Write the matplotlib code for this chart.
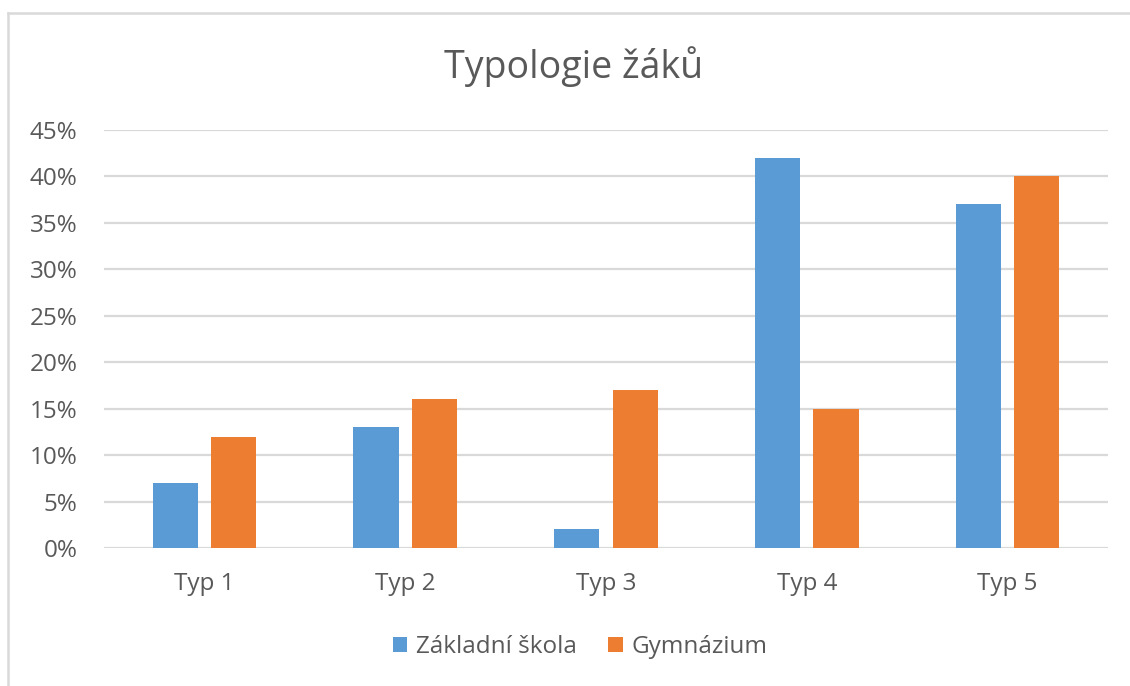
import matplotlib
matplotlib.use("Agg")
import matplotlib.pyplot as plt
from matplotlib.lines import Line2D
from matplotlib.patches import Patch
import numpy as np

categories = ["Typ 1", "Typ 2", "Typ 3", "Typ 4", "Typ 5"]
zakladni = [0.07, 0.13, 0.02, 0.42, 0.37]
gymnazium = [0.12, 0.16, 0.17, 0.15, 0.40]
series_names = ["Základní škola", "Gymnázium"]
yticks = [0, 0.05, 0.10, 0.15, 0.20, 0.25, 0.30, 0.35, 0.40, 0.45]

blue = "#5B9BD5"
orange = "#ED7D31"
txt = "#595959"
grid = "#D9D9D9"

plt.rcParams['font.family'] = ['Open Sans', 'DejaVu Sans']

W, H = 1130, 686
fig = plt.figure(figsize=(W / 100, H / 100), dpi=100)
ax = fig.add_axes([104 / W, 1 - 548 / H, (1108 - 104) / W, (548 - 130) / H])

x = np.arange(len(categories))
bw = 0.225
off = 0.145
ax.bar(x - off, zakladni, bw, color=blue, zorder=3)
ax.bar(x + off, gymnazium, bw, color=orange, zorder=3)

ax.set_xlim(-0.5, len(categories) - 0.5)
ax.set_ylim(0, 0.45)
ax.set_yticks(yticks)
ax.set_yticklabels([f"{int(round(v * 100))}%" for v in yticks])
ax.set_xticks(x)
ax.set_xticklabels(categories)
ax.tick_params(axis='both', length=0, colors=txt, labelsize=17.5)
ax.tick_params(axis='y', pad=19)
ax.tick_params(axis='x', pad=17)
for s in ax.spines.values():
    s.set_visible(False)
ax.yaxis.grid(True, color=grid, linewidth=1.6, zorder=0)
ax.set_axisbelow(True)

fig.text(574 / W, 1 - 67 / H, "Typologie žáků", ha='center', va='center',
         fontsize=27, color=txt)

handles = [Patch(facecolor=blue, label=series_names[0]),
           Patch(facecolor=orange, label=series_names[1])]
fig.legend(handles=handles, loc='center', bbox_to_anchor=(580 / W, 1 - 647 / H),
           ncol=2, frameon=False, fontsize=17.5, labelcolor=txt,
           handlelength=0.6, handleheight=0.6, handletextpad=0.35,
           columnspacing=1.3)

# chart border (left and top visible)
fig.add_artist(Line2D([8 / W, 8 / W], [0, 1 - 13 / H], color="#D9D9D9",
                      linewidth=1.8, transform=fig.transFigure))
fig.add_artist(Line2D([8 / W, 1], [1 - 13 / H, 1 - 13 / H], color="#D9D9D9",
                      linewidth=1.8, transform=fig.transFigure))

fig.savefig("out.png", dpi=100, facecolor="white")
